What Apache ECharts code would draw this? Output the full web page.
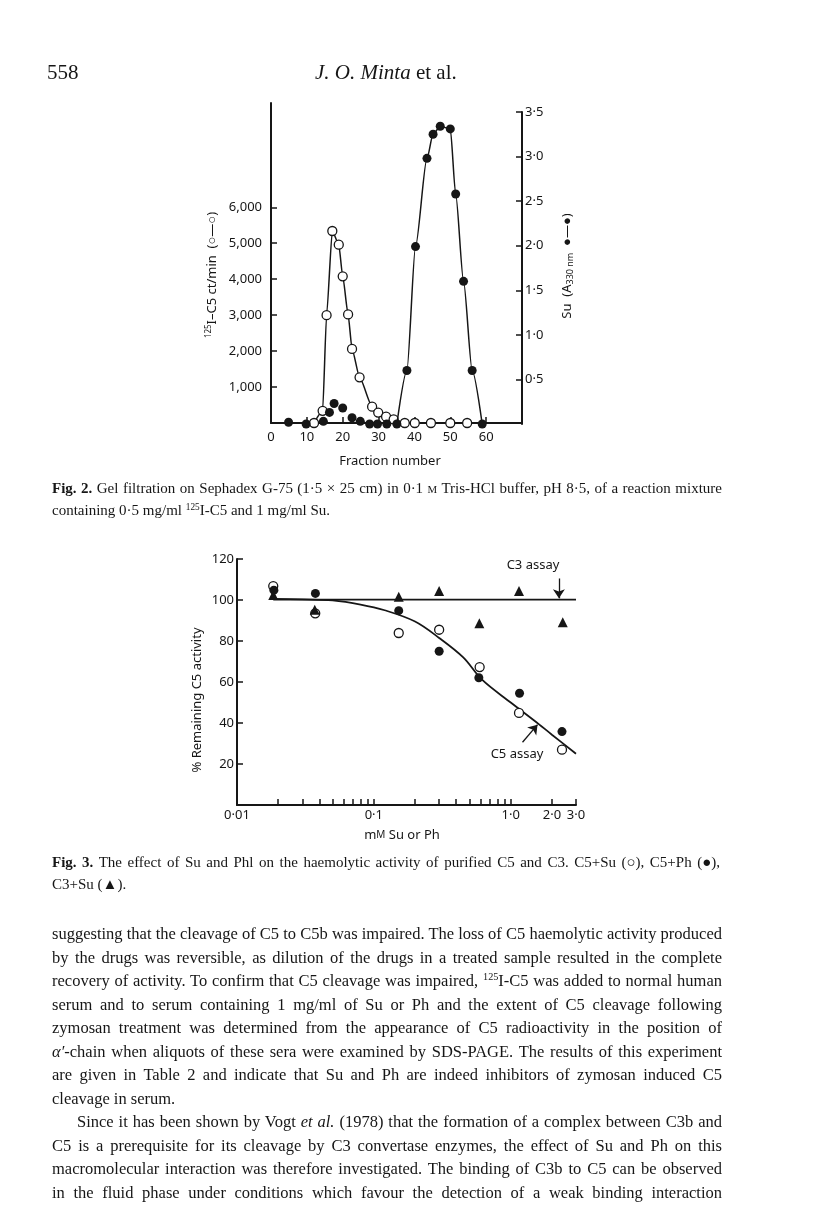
<!DOCTYPE html>
<html><head><meta charset="utf-8">
<script src="https://cdn.jsdelivr.net/npm/echarts@6/dist/echarts.min.js"></script>
<style>
html,body{margin:0;padding:0;background:#fff}
body{width:816px;height:1232px;position:relative;overflow:hidden;font-family:"Liberation Serif","DejaVu Serif",serif;color:#161616}
#chart{position:absolute;left:0;top:0;width:816px;height:1232px}
.t{position:absolute;white-space:nowrap}
.jl{position:absolute;white-space:nowrap}
.body{font-size:16.5px;line-height:20px}
.cap{font-size:15px;line-height:18px}
sup{font-size:0.62em;vertical-align:0.55em;line-height:0}
.sc{font-size:0.72em}
</style></head>
<body>
<div id="chart"></div>

<div class="t" style="left:47px;top:60px;font-size:21px;line-height:24px">558</div>
<div class="t" style="left:315px;top:60px;font-size:21px;line-height:24px"><i>J. O. Minta</i> et al.</div>

<div class="jl cap" data-w="670" style="left:52px;top:479px"><span><b>Fig. 2.</b> Gel filtration on Sephadex G-75 (1·5 × 25 cm) in 0·1 <span class="sc">M</span> Tris-HCl buffer, pH 8·5, of a reaction mixture</span></div>
<div class="t cap" style="left:52px;top:501px">containing 0·5 mg/ml <sup>125</sup>I-C5 and 1 mg/ml Su.</div>

<div class="jl cap" data-w="668" style="left:52px;top:853px"><span><b>Fig. 3.</b> The effect of Su and Phl on the haemolytic activity of purified C5 and C3. C5+Su (○), C5+Ph (●),</span></div>
<div class="t cap" style="left:52px;top:875px">C3+Su (▲).</div>

<div class="jl body" data-w="670" style="left:52px;top:924px"><span>suggesting that the cleavage of C5 to C5b was impaired. The loss of C5 haemolytic activity produced</span></div>
<div class="jl body" data-w="670" style="left:52px;top:947.5px"><span>by the drugs was reversible, as dilution of the drugs in a treated sample resulted in the complete</span></div>
<div class="jl body" data-w="670" style="left:52px;top:971px"><span>recovery of activity. To confirm that C5 cleavage was impaired, <sup>125</sup>I-C5 was added to normal human</span></div>
<div class="jl body" data-w="670" style="left:52px;top:994.5px"><span>serum and to serum containing 1 mg/ml of Su or Ph and the extent of C5 cleavage following</span></div>
<div class="jl body" data-w="670" style="left:52px;top:1018px"><span>zymosan treatment was determined from the appearance of C5 radioactivity in the position of</span></div>
<div class="jl body" data-w="670" style="left:52px;top:1041.5px"><span><i>α′</i>-chain when aliquots of these sera were examined by SDS-PAGE. The results of this experiment</span></div>
<div class="jl body" data-w="670" style="left:52px;top:1065px"><span>are given in Table 2 and indicate that Su and Ph are indeed inhibitors of zymosan induced C5</span></div>
<div class="t body" style="left:52px;top:1088.5px">cleavage in serum.</div>
<div class="jl body" data-w="645" style="left:77px;top:1112px"><span>Since it has been shown by Vogt <i>et al.</i> (1978) that the formation of a complex between C3b and</span></div>
<div class="jl body" data-w="670" style="left:52px;top:1135.5px"><span>C5 is a prerequisite for its cleavage by C3 convertase enzymes, the effect of Su and Ph on this</span></div>
<div class="jl body" data-w="670" style="left:52px;top:1159px"><span>macromolecular interaction was therefore investigated. The binding of C3b to C5 can be observed</span></div>
<div class="jl body" data-w="670" style="left:52px;top:1182.5px"><span>in the fluid phase under conditions which favour the detection of a weak binding interaction</span></div>

<script>
// ---------------- Fig. 2 data (gel filtration) ----------------
const c5Fractions = [12, 14.4, 15.5, 17.1, 18.9, 20.0, 21.5, 22.6, 24.7, 28.2, 29.9, 32.1, 34.2, 37.3, 40.1, 44.6, 50.0, 54.7];
const c5Counts    = [0, 340, 3000, 5340, 4960, 4080, 3020, 2060, 1270, 455, 290, 175, 100, 0, 0, 0, 0, 0];
const suEarlyFractions = [4.9, 9.8, 14.6, 16.3, 17.6, 20.0, 22.6, 24.9, 27.5, 29.7, 32.3];
const suEarlyA330      = [0.02, 0, 0.03, 0.13, 0.23, 0.18, 0.07, 0.03, 0, 0, 0];
const suPeakFractions  = [35.1, 37.9, 40.3, 43.5, 45.2, 47.2, 50.0, 51.5, 53.7, 56.1, 58.9];
const suPeakA330       = [0, 0.60, 1.99, 2.98, 3.25, 3.34, 3.31, 2.58, 1.60, 0.60, 0];
const fig2XLabels = [0, 10, 20, 30, 40, 50, 60];
const fig2XTicks  = [10, 20, 30, 40, 50, 60];
const fig2LeftTicks  = [1000, 2000, 3000, 4000, 5000, 6000];
const fig2RightTicks = [0.5, 1.0, 1.5, 2.0, 2.5, 3.0, 3.5];

// ---------------- Fig. 3 data (dose response) ----------------
const c5SuDose     = [0.0184, 0.0373, 0.152, 0.30, 0.593, 1.15, 2.37];
const c5SuActivity = [106.8, 93.5, 83.9, 85.5, 67.3, 44.9, 27.0];
const c5PhDose     = [0.0186, 0.0374, 0.152, 0.30, 0.585, 1.16, 2.37];
const c5PhActivity = [104.8, 103.2, 94.8, 75.0, 62.1, 54.5, 35.8];
const c3SuDose     = [0.0184, 0.037, 0.152, 0.30, 0.59, 1.15, 2.4];
const c3SuActivity = [102.4, 95.2, 101.6, 104.4, 88.7, 104.4, 89.2];
const c3FitDose     = [0.0184, 3.0];
const c3FitActivity = [100.2, 100.2];
const c5FitDose     = [0.0184, 0.03, 0.05, 0.08, 0.12, 0.2, 0.3, 0.45, 0.62, 1.0, 1.5, 2.0, 3.0];
const c5FitActivity = [100.5, 100.3, 99.8, 97.8, 95.0, 89.5, 81.5, 72.0, 61.0, 50.0, 41.0, 34.3, 25.0];
const fig3XLabelValues = [0.01, 0.1, 1, 2, 3];
const fig3XLabelText   = ['0·01', '0·1', '1·0', '2·0', '3·0'];
const fig3XTicks = [0.02,0.03,0.04,0.05,0.06,0.07,0.08,0.09,0.1,0.2,0.3,0.4,0.5,0.6,0.7,0.8,0.9,1,2,3];
const fig3YTicks = [20, 40, 60, 80, 100, 120];
const c3Arrow = [[2.25, 110.5], [2.25, 100.8]];
const c5Arrow = [[1.22, 30.6], [1.57, 39.2]];

// ---------------- helpers ----------------
const INK = '#161616';
const FONT = 'Noto Sans';
const pair = (xs, ys) => xs.map((x, i) => [x, ys[i]]);
const dotNum = v => String(v).replace('.', '·');
const axisLine = {show: true, onZero: false, lineStyle: {color: INK, width: 2}};
const tickStyle = {color: INK, width: 1.5};
const lbl = {color: INK, fontFamily: FONT, fontSize: 13};
const openSym = {color: '#fff', borderColor: INK, borderWidth: 1.3, opacity: 1};
const fillSym = {color: INK, borderColor: INK, borderWidth: 0, opacity: 1};

const chart = echarts.init(document.getElementById('chart'));
chart.setOption({
  animation: false,
  backgroundColor: 'transparent',
  grid: [
    {left: 271, right: 294, top: 103, height: 320, containLabel: false, outerBoundsMode: 'none'},
    {left: 271, right: 294, top: 112, height: 312, containLabel: false, outerBoundsMode: 'none'},
    {left: 237, right: 240, top: 559, height: 246, containLabel: false, outerBoundsMode: 'none'}
  ],
  xAxis: [
    {gridIndex: 0, type: 'value', min: 0, max: 70, axisLine: axisLine,
     axisTick: {show: true, inside: true, length: 6, customValues: fig2XTicks, lineStyle: tickStyle},
     axisLabel: Object.assign({show: true, margin: 8, customValues: fig2XLabels}, lbl),
     splitLine: {show: false}},
    {gridIndex: 1, type: 'value', min: 0, max: 70, show: false},
    {gridIndex: 2, type: 'log', logBase: 10, min: 0.01, max: 3, axisLine: axisLine,
     axisTick: {show: true, inside: true, length: 6, customValues: fig3XTicks, lineStyle: tickStyle},
     axisLabel: Object.assign({show: true, margin: 4, customValues: fig3XLabelValues,
       formatter: v => {
         for (let i = 0; i < fig3XLabelValues.length; i++) {
           if (Math.abs(Math.log10(v) - Math.log10(fig3XLabelValues[i])) < 1e-6) return fig3XLabelText[i];
         }
         return '';
       }}, lbl),
     splitLine: {show: false}, minorTick: {show: false}}
  ],
  yAxis: [
    {gridIndex: 0, type: 'value', min: 0, max: 8900, position: 'left', axisLine: axisLine,
     axisTick: {show: true, inside: true, length: 6, customValues: fig2LeftTicks, lineStyle: tickStyle},
     axisLabel: Object.assign({show: true, margin: 9, customValues: fig2LeftTicks,
       formatter: v => Number(v).toLocaleString('en-US')}, lbl),
     splitLine: {show: false}},
    {gridIndex: 1, type: 'value', min: 0, max: 3.5, position: 'right', axisLine: axisLine,
     axisTick: {show: true, inside: true, length: 6, customValues: fig2RightTicks, lineStyle: tickStyle},
     axisLabel: Object.assign({show: true, margin: 3, customValues: fig2RightTicks,
       formatter: v => dotNum(Number(v).toFixed(1))}, lbl),
     splitLine: {show: false}},
    {gridIndex: 2, type: 'value', min: 0, max: 120, position: 'left', axisLine: axisLine,
     axisTick: {show: true, inside: true, length: 6, customValues: fig3YTicks, lineStyle: tickStyle},
     axisLabel: Object.assign({show: true, margin: 3, customValues: fig3YTicks}, lbl),
     splitLine: {show: false}}
  ],
  series: [
    // Fig. 2
    {type: 'line', name: '125I-C5', xAxisIndex: 0, yAxisIndex: 0, data: pair(c5Fractions, c5Counts),
     smooth: 0.2, smoothMonotone: 'x', symbol: 'circle', symbolSize: 9,
     lineStyle: {color: INK, width: 1.5}, itemStyle: openSym, z: 3},
    {type: 'scatter', name: 'Su early', xAxisIndex: 1, yAxisIndex: 1, data: pair(suEarlyFractions, suEarlyA330),
     symbol: 'circle', symbolSize: 9, itemStyle: fillSym, z: 4},
    {type: 'line', name: 'Su peak', xAxisIndex: 1, yAxisIndex: 1, data: pair(suPeakFractions, suPeakA330),
     smooth: 0.25, smoothMonotone: 'x', symbol: 'circle', symbolSize: 9,
     lineStyle: {color: INK, width: 1.5}, itemStyle: fillSym, z: 4},
    // Fig. 3 fits
    {type: 'line', name: 'C3 assay', xAxisIndex: 2, yAxisIndex: 2, data: pair(c3FitDose, c3FitActivity),
     symbol: 'none', lineStyle: {color: INK, width: 1.8}, itemStyle: {color: INK}, z: 2,
     markLine: {silent: true, symbol: ['none', 'arrow'], symbolSize: 9, label: {show: false},
       itemStyle: {color: INK},
       lineStyle: {color: INK, width: 1.3, type: 'solid', opacity: 1},
       emphasis: {disabled: true},
       data: [[{coord: c3Arrow[0]}, {coord: c3Arrow[1]}], [{coord: c5Arrow[0]}, {coord: c5Arrow[1]}]]}},
    {type: 'line', name: 'C5 assay', xAxisIndex: 2, yAxisIndex: 2, data: pair(c5FitDose, c5FitActivity),
     smooth: 0.35, symbol: 'none', lineStyle: {color: INK, width: 1.8}, z: 2},
    {type: 'scatter', name: 'C5+Su', xAxisIndex: 2, yAxisIndex: 2, data: pair(c5SuDose, c5SuActivity),
     symbol: 'circle', symbolSize: 9, itemStyle: openSym, z: 4},
    {type: 'scatter', name: 'C5+Ph', xAxisIndex: 2, yAxisIndex: 2, data: pair(c5PhDose, c5PhActivity),
     symbol: 'circle', symbolSize: 9, itemStyle: fillSym, z: 5},
    {type: 'scatter', name: 'C3+Su', xAxisIndex: 2, yAxisIndex: 2, data: pair(c3SuDose, c3SuActivity),
     symbol: 'triangle', symbolSize: 10, itemStyle: fillSym, z: 6}
  ],
  graphic: [
    {type: 'text', x: 390, y: 461, style: {text: 'Fraction number', align: 'center', verticalAlign: 'middle', fontFamily: FONT, fontSize: 13, fill: INK}},
    {type: 'text', x: 212, y: 275, rotation: Math.PI / 2,
     style: {text: '{s|125}{n|I–C5 ct/min  (○—○)}', align: 'center', verticalAlign: 'middle', fill: INK,
       rich: {n: {fontFamily: FONT, fontSize: 13, fill: INK}, s: {fontFamily: FONT, fontSize: 8, fill: INK, padding: [0, 0, 7, 0]}}}},
    {type: 'text', x: 567, y: 266, rotation: Math.PI / 2,
     style: {text: '{n|Su  (A}{b|330 nm}{n|  ●—●)}', align: 'center', verticalAlign: 'middle', fill: INK,
       rich: {n: {fontFamily: FONT, fontSize: 13, fill: INK}, b: {fontFamily: FONT, fontSize: 9, fill: INK, padding: [7, 0, 0, 0]}}}},
    {type: 'text', x: 197, y: 700, rotation: Math.PI / 2,
     style: {text: '% Remaining C5 activity', align: 'center', verticalAlign: 'middle', fontFamily: FONT, fontSize: 13, fill: INK}},
    {type: 'text', x: 402, y: 835,
     style: {text: '{n|m}{c|M}{n| Su or Ph}', align: 'center', verticalAlign: 'middle', fill: INK,
       rich: {n: {fontFamily: FONT, fontSize: 13, fill: INK}, c: {fontFamily: FONT, fontSize: 10, fill: INK}}}},
    {type: 'text', x: 533, y: 565, style: {text: 'C3 assay', align: 'center', verticalAlign: 'middle', fontFamily: FONT, fontSize: 13, fill: INK}},
    {type: 'text', x: 517, y: 754, style: {text: 'C5 assay', align: 'center', verticalAlign: 'middle', fontFamily: FONT, fontSize: 13, fill: INK}}
  ]
});

// manual justification of text lines
document.querySelectorAll('.jl').forEach(el => {
  const target = parseFloat(el.dataset.w);
  const span = el.firstElementChild;
  const txt = span.textContent;
  let w = span.getBoundingClientRect().width;
  if (w > target) {
    span.style.letterSpacing = ((target - w) / txt.length) + 'px';
    w = span.getBoundingClientRect().width;
  }
  const spaces = (txt.match(/ /g) || []).length;
  if (spaces) span.style.wordSpacing = ((target - w) / spaces) + 'px';
});
</script>
</body></html>
